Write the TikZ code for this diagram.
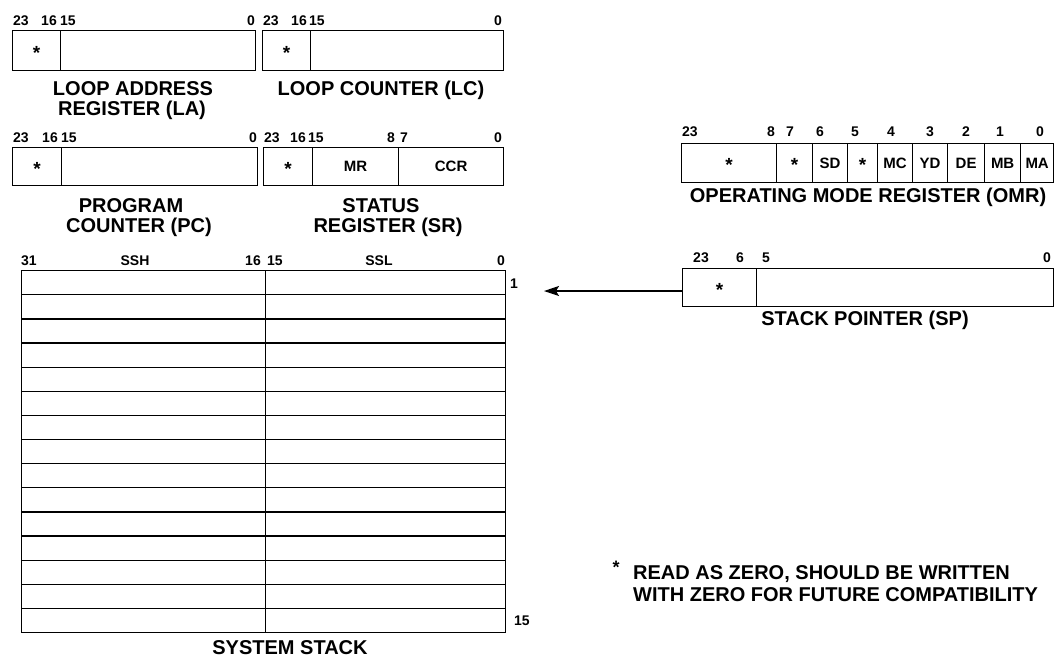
\documentclass[tikz,border=0pt]{standalone}
\usepackage{fontspec}
\setmainfont{Liberation Sans}
\usetikzlibrary{arrows.meta}
\newcommand\fsz[1]{\fontsize{#1}{#1}\selectfont\bfseries}
\newcommand\regstar{\fsz{19}\smash{\raisebox{-0.45em}{*}}}
\newcommand\regcell[6]{\node[cellbox, minimum width=#4pt, minimum height=#5pt] (#1) at (#2,#3) {#6};}
\begin{document}
\begin{tikzpicture}[x=1pt,y=-1pt,
  cellbox/.style={draw, line width=1.3pt, inner sep=0pt, anchor=north west, font=\fsz{15}},
  bitlbl/.style={font=\fsz{14}, inner sep=0pt},
  captxt/.style={font=\fsz{20}, inner sep=0pt, anchor=base},
  arr/.style={line width=1.3pt, -{Stealth[length=15pt,width=10pt,inset=3pt]}}]
\useasboundingbox (0,0) rectangle (1057,657);

% ---------- Loop address register
\regcell{LAa}{12}{30}{48}{40}{\regstar}
\regcell{LAb}{60}{30}{195}{40}{}
\node[bitlbl, anchor=base west] (la23) at (13,25) {23};
\node[bitlbl, anchor=base east] (la16) at (57,25) {16};
\node[bitlbl, anchor=base west] (la15) at (60,25) {15};
\node[bitlbl, anchor=base east] (la0) at (255,25) {0};
\node[captxt] (laA) at (133,95) {LOOP ADDRESS};
\node[captxt] (laB) at (132,115) {REGISTER (LA)};

% ---------- Loop counter
\regcell{LCa}{262}{30}{48}{40}{\regstar}
\regcell{LCb}{310}{30}{193}{40}{}
\node[bitlbl, anchor=base west] (lc23) at (263,25) {23};
\node[bitlbl, anchor=base east] (lc16) at (307,25) {16};
\node[bitlbl, anchor=base west] (lc15) at (309,25) {15};
\node[bitlbl, anchor=base east] (lc0) at (502,25) {0};
\node[captxt] (lcA) at (381,95) {LOOP COUNTER (LC)};

% ---------- Program counter
\regcell{PCa}{12}{147}{49}{38}{\regstar}
\regcell{PCb}{61}{147}{196}{38}{}
\node[bitlbl, anchor=base west] (pc23) at (13,142) {23};
\node[bitlbl, anchor=base east] (pc16) at (58,142) {16};
\node[bitlbl, anchor=base west] (pc15) at (61,142) {15};
\node[bitlbl, anchor=base east] (pc0) at (257,142) {0};
\node[captxt] (pcA) at (131,212) {PROGRAM};
\node[captxt] (pcB) at (139,232) {COUNTER (PC)};

% ---------- Status register
\regcell{SRa}{263}{147}{49}{38}{\regstar}
\regcell{SRb}{312}{147}{86}{38}{MR}
\regcell{SRc}{398}{147}{105}{38}{CCR}
\node[bitlbl, anchor=base west] (sr23) at (264,142) {23};
\node[bitlbl, anchor=base east] (sr16) at (306,142) {16};
\node[bitlbl, anchor=base west] (sr15) at (308,142) {15};
\node[bitlbl, anchor=base east] (sr8) at (395,142) {8};
\node[bitlbl, anchor=base west] (sr7) at (400,142) {7};
\node[bitlbl, anchor=base east] (sr0) at (502,142) {0};
\node[captxt] (srA) at (381,212) {STATUS};
\node[captxt] (srB) at (388,232) {REGISTER (SR)};

% ---------- Operating mode register
\regcell{OMa}{681}{143}{95}{39}{\regstar}
\regcell{OMb}{776}{143}{36}{39}{\regstar}
\regcell{OMc}{812}{143}{35}{39}{SD}
\regcell{OMd}{847}{143}{30}{39}{\regstar}
\regcell{OMe}{877}{143}{35}{39}{MC}
\regcell{OMf}{912}{143}{35}{39}{YD}
\regcell{OMg}{947}{143}{37}{39}{DE}
\regcell{OMh}{984}{143}{36}{39}{MB}
\regcell{OMi}{1020}{143}{33}{39}{MA}
\node[bitlbl, anchor=base west] (om23) at (682,136) {23};
\node[bitlbl, anchor=base east] (om8) at (775,136) {8};
\node[bitlbl, anchor=base] (om7) at (790,136) {7};
\node[bitlbl, anchor=base] (om6) at (820,136) {6};
\node[bitlbl, anchor=base] (om5) at (855,136) {5};
\node[bitlbl, anchor=base] (om4) at (891,136) {4};
\node[bitlbl, anchor=base] (om3) at (930,136) {3};
\node[bitlbl, anchor=base] (om2) at (966,136) {2};
\node[bitlbl, anchor=base] (om1) at (1000,136) {1};
\node[bitlbl, anchor=base] (om0) at (1040,136) {0};
\node[captxt] (omA) at (868,202) {OPERATING MODE REGISTER (OMR)};

% ---------- Stack pointer
\regcell{SPa}{682}{268}{74}{38}{\regstar}
\regcell{SPb}{756}{268}{297}{38}{}
\node[bitlbl, anchor=base] (sp23) at (701,262) {23};
\node[bitlbl, anchor=base] (sp6) at (740,262) {6};
\node[bitlbl, anchor=base] (sp5) at (766,262) {5};
\node[bitlbl, anchor=base] (sp0) at (1047,262) {0};
\node[captxt] (spA) at (865,325) {STACK POINTER (SP)};
\coordinate (sptip) at (544,291);
\draw[arr] (SPa.west |- sptip) -- (sptip);

% ---------- System stack
\foreach \i in {0,...,14}{
  \node[cellbox, minimum width=244pt, minimum height=24.13pt] (ssh\i) at (21,{270+24.13*\i}) {};
  \node[cellbox, minimum width=240pt, minimum height=24.13pt] (ssl\i) at (265,{270+24.13*\i}) {};
}
\node[bitlbl, anchor=base west] (ss31) at (21,265) {31};
\node[bitlbl, anchor=base] (ssh) at (135,265) {SSH};
\node[bitlbl, anchor=base east] (ss16) at (261,265) {16};
\node[bitlbl, anchor=base west] (ss15) at (267,265) {15};
\node[bitlbl, anchor=base] (ssl) at (379,265) {SSL};
\node[bitlbl, anchor=base east] (ss0) at (505,265) {0};
\node[bitlbl, anchor=base west] (ssn1) at (510,288) {1};
\node[bitlbl, anchor=base west] (ssn15) at (514,625) {15};
\node[captxt] (ssA) at (290,654) {SYSTEM STACK};

% ---------- Note
\node[bitlbl, font=\fsz{18}] (nstar) at (616,567) {*};
\node[captxt, anchor=base west] (noteA) at (633,579) {READ AS ZERO, SHOULD BE WRITTEN};
\node[captxt, anchor=base west] (noteB) at (633,601) {WITH ZERO FOR FUTURE COMPATIBILITY};
\end{tikzpicture}
\end{document}
